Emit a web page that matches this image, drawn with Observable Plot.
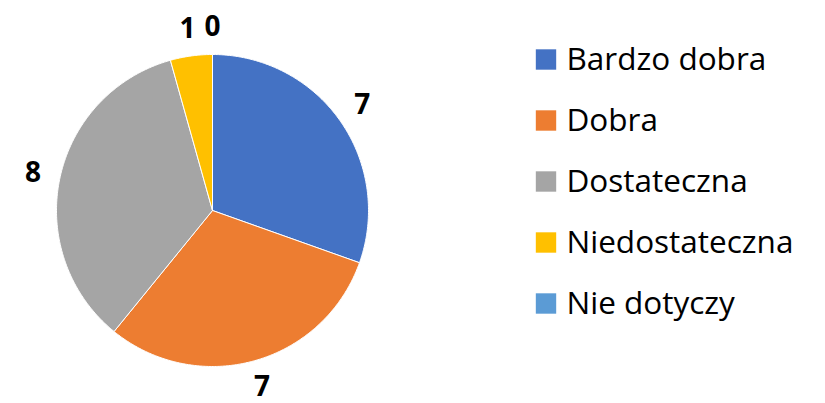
<!DOCTYPE html>
<html>
<head>
<meta charset="utf-8">
<script src="https://cdn.jsdelivr.net/npm/d3@7"></script>
<script src="https://cdn.jsdelivr.net/npm/@observablehq/plot@0.6"></script>
<style>
  html, body { margin: 0; padding: 0; background: #fff; }
  #chart svg { display: block; }
</style>
</head>
<body>
<div id="chart"></div>
<script>
const categories = ["Bardzo dobra", "Dobra", "Dostateczna", "Niedostateczna", "Nie dotyczy"];
const values = [7, 7, 8, 1, 0];
const colors = ["#4472C4", "#ED7D31", "#A5A5A5", "#FFC000", "#5B9BD5"];

const W = 825, H = 403;
const cx = 212, cy = 210, R = 156; // pixel geometry of the pie
const labelR = 1.175;

const arcs = d3.pie().sort(null).value(d => d)(values);

// slice outlines
const slicePts = [];
arcs.forEach((a, i) => {
  if (a.endAngle - a.startAngle <= 0) return;
  const cat = categories[i];
  slicePts.push({cat, x: 0, y: 0});
  const n = Math.max(2, Math.ceil((a.endAngle - a.startAngle) / 0.01));
  for (let k = 0; k <= n; k++) {
    const t = a.startAngle + (a.endAngle - a.startAngle) * k / n;
    slicePts.push({cat, x: Math.sin(t), y: Math.cos(t)});
  }
  slicePts.push({cat, x: 0, y: 0});
});

const labels = arcs.map((a, i) => {
  const m = (a.startAngle + a.endAngle) / 2;
  return {x: labelR * Math.sin(m), y: labelR * Math.cos(m), text: String(values[i])};
});

// legend layout
const legX = (545.5 - cx) / R, legTX = (566 - cx) / R;
const legend = categories.map((c, i) => ({cat: c, y: (cy - (59 + i * 61)) / R}));

const plot = Plot.plot({
  width: W, height: H,
  margin: 0,
  x: {domain: [-cx / R, (W - cx) / R], range: [0, W], axis: null},
  y: {domain: [-(H - cy) / R, cy / R], range: [H, 0], axis: null},
  color: {domain: categories, range: colors},
  style: {fontFamily: "'Open Sans', 'Liberation Sans', sans-serif", background: "#fff"},
  marks: [
    Plot.line(slicePts, {x: "x", y: "y", z: "cat", fill: "cat", stroke: "white", strokeWidth: 1, curve: "linear"}),
    Plot.text(labels, {x: "x", y: "y", text: "text", fontSize: 28, fontWeight: "bold", fill: "#000"}),
    Plot.dot(legend, {x: legX, y: "y", symbol: "square", r: 11.5, fill: "cat", stroke: null}),
    Plot.text(legend, {x: legTX, y: "y", text: "cat", textAnchor: "start", fontSize: 31.5, fill: "#000"})
  ]
});
document.getElementById("chart").appendChild(plot);
</script>
</body>
</html>
